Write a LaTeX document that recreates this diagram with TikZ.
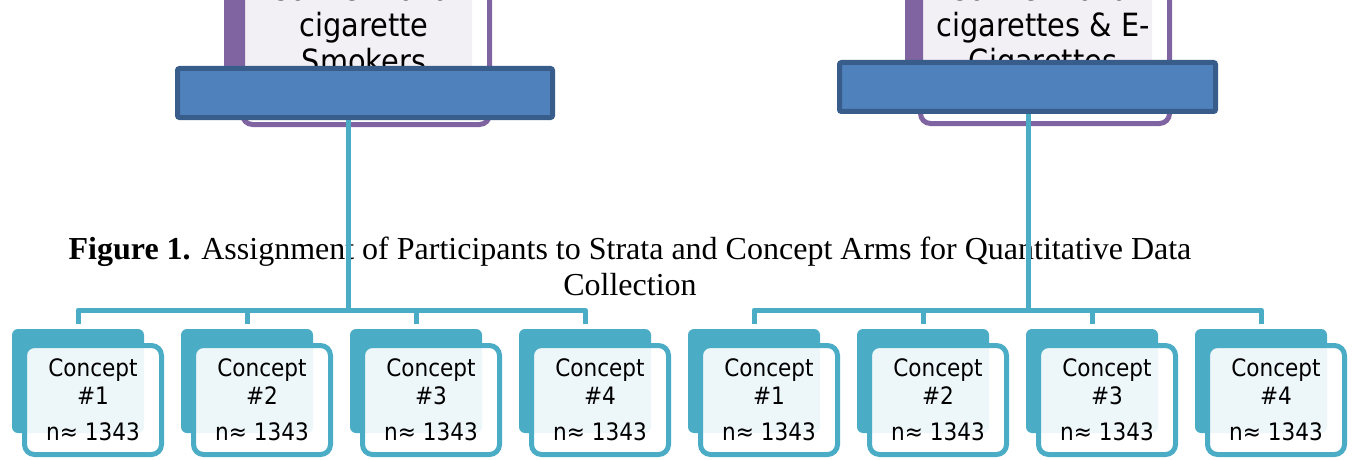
\documentclass[tikz,border=0pt]{standalone}
\usepackage{fontspec}
\setmainfont{Liberation Serif}
\newfontfamily\dvc{DejaVu Sans Condensed}
\definecolor{purpleC}{HTML}{8064A2}
\definecolor{tealC}{HTML}{4BACC6}
\definecolor{barFill}{HTML}{4F81BD}
\definecolor{barLine}{HTML}{385D8A}
\tikzset{
  conn/.style={draw=tealC, line width=3.75pt, line join=round},
  barbox/.style={rectangle, draw=barLine, fill=barFill, line width=3.75pt, rounded corners=1.5pt,
                 minimum width=281.25pt, minimum height=36.75pt, inner sep=0pt},
  backbox/.style={rectangle, fill=tealC, rounded corners=4.5pt, minimum width=99pt, minimum height=78pt, inner sep=0pt},
  frontbox/.style={rectangle, draw=tealC, fill=white, fill opacity=0.9, line width=3.75pt, rounded corners=7.5pt,
                   minimum width=102.75pt, minimum height=81.75pt, inner sep=0pt},
  ctext/.style={anchor=base, inner sep=0pt, font=\dvc\fontsize{18}{21}\selectfont},
  ttext/.style={anchor=base, inner sep=0pt, font=\dvc\fontsize{24}{27}\selectfont},
  captext/.style={anchor=base, inner sep=0pt, font=\fontsize{24}{27}\selectfont},
}
\begin{document}
\begin{tikzpicture}[x=0.75pt,y=-0.75pt]
\useasboundingbox (0,0) rectangle (1353,460);
\clip (0,0) rectangle (1353,460);
% top boxes (strata)
\fill[purpleC, rounded corners=4.5pt] (224,-40) rectangle (472,110);
\draw[purpleC, fill=white, fill opacity=0.9, line width=3.75pt, rounded corners=7.5pt] (242.5,-40) rectangle (489.5,124.5);
\node[ttext] (l1) at (364,1) {Conventional};
\node[ttext] (l2) at (364,37) {cigarette};
\node[ttext] (l3) at (364,73) {Smokers};
\fill[purpleC, rounded corners=4.5pt] (905,-40) rectangle (1152,105);
\draw[purpleC, fill=white, fill opacity=0.9, line width=3.75pt, rounded corners=7.5pt] (920.5,-40) rectangle (1169.5,123.5);
\node[ttext] (r1) at (1043,1) {Conventional};
\node[ttext] (r2) at (1043,37) {cigarettes \& E-};
\node[ttext] (r3) at (1043,73) {Cigarettes};
% caption
\node[captext] (cap1) at (630,259) {\textbf{Figure 1.} Assignment of Participants to Strata and Concept Arms for Quantitative Data};
\node[captext] (cap2) at (630,295) {Collection};
% coordinates for junctions
\coordinate (jL) at (348,310);
\coordinate (jR) at (1028,310);
% concept back boxes
\foreach \i/\x in {1/78,2/247,3/416,4/585}{
  \node[backbox] (bL\i) at (\x,381) {};
}
\foreach \i/\x in {1/754,2/923,3/1092,4/1261}{
  \node[backbox] (bR\i) at (\x,381) {};
}
% bars
\node[barbox] (barL) at (365,93) {};
\node[barbox, minimum width=282pt] (barR) at (1027.5,87) {};
% connectors
\draw[conn] (barL.south -| jL) -- (jL);
\draw[conn] (barR.south -| jR) -- (jR);
\draw[conn] ([yshift=3.75pt]bL1.north) -- (bL1.north |- jL) -- (bL4.north |- jL) -- ([yshift=3.75pt]bL4.north);
\draw[conn] ([yshift=3.75pt]bL2.north) -- (bL2.north |- jL);
\draw[conn] ([yshift=3.75pt]bL3.north) -- (bL3.north |- jL);
\draw[conn] ([yshift=3.75pt]bR1.north) -- (bR1.north |- jR) -- (bR4.north |- jR) -- ([yshift=3.75pt]bR4.north);
\draw[conn] ([yshift=3.75pt]bR2.north) -- (bR2.north |- jR);
\draw[conn] ([yshift=3.75pt]bR3.north) -- (bR3.north |- jR);
% front boxes and texts
\foreach \i/\x in {1/93,2/262,3/431,4/600}{
  \node[frontbox] (fL\i) at (\x,400) {};
  \node[ctext] (cL\i a) at (\x,376) {Concept};
  \node[ctext] (cL\i b) at (\x,404) {\#\i};
  \node[ctext] (cL\i c) at (\x,440) {n≈ 1343};
}
\foreach \i/\x in {1/769,2/938,3/1107,4/1276}{
  \node[frontbox] (fR\i) at (\x,400) {};
  \node[ctext] (cR\i a) at (\x,376) {Concept};
  \node[ctext] (cR\i b) at (\x,404) {\#\i};
  \node[ctext] (cR\i c) at (\x,440) {n≈ 1343};
}
\end{tikzpicture}
\end{document}
